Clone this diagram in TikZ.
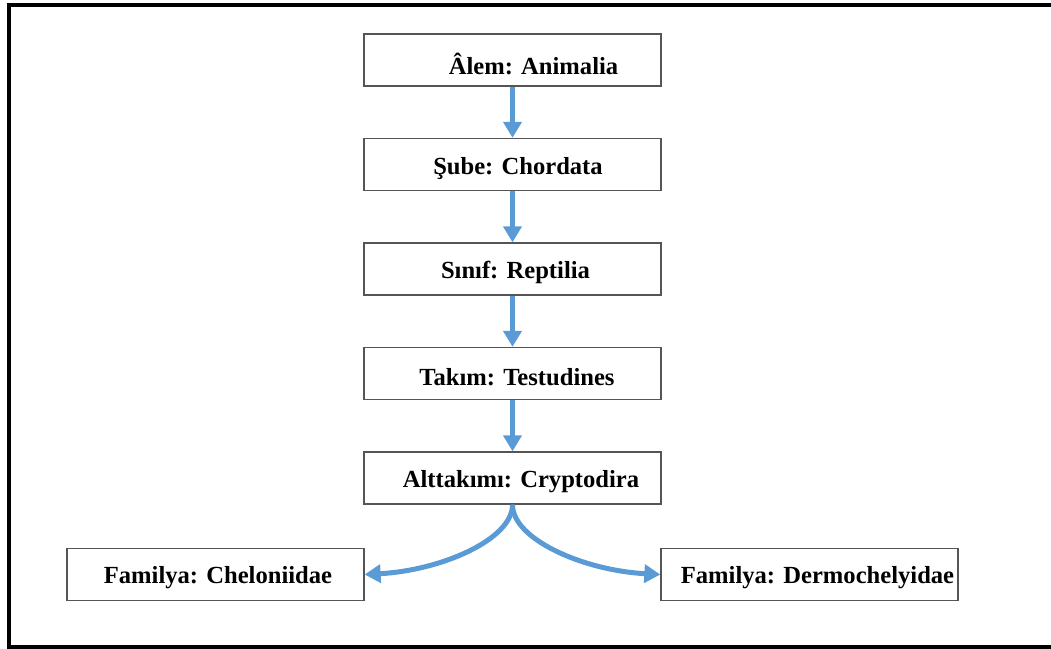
\documentclass[tikz,border=0pt]{standalone}
\usepackage{fontspec}
\setmainfont{Liberation Serif}
\usetikzlibrary{arrows.meta}
\definecolor{arrowblue}{RGB}{91,155,213}
\definecolor{boxgray}{RGB}{85,85,85}
\newcommand{\shifted}[2]{\hspace*{#1}\raisebox{-3.5pt}[\height][\depth]{#2}}
\begin{document}
\begin{tikzpicture}[x=1pt,y=-1pt,
  taxbox/.style={draw=boxgray, line width=1.3pt, minimum width=297pt, minimum height=52pt,
    inner sep=0pt, font=\fontsize{24.6}{28}\selectfont\bfseries, text=black},
  taxarrow/.style={draw=arrowblue, line width=5pt, -{Triangle[length=16pt,width=18pt]}}
]
\useasboundingbox (0,0) rectangle (1051,648);
\begin{scope}
\clip (0,0) rectangle (1051,648);
\draw[line width=4pt] (9,4.5) rectangle (1058,646.5);
\end{scope}

\node[taxbox] (alem) at (512.5,60) {\shifted{42pt}{Âlem: Animalia}};
\node[taxbox] (sube) at (512.5,164.5) {\shifted{11pt}{Şube: Chordata}};
\node[taxbox] (sinif) at (512.5,269) {\shifted{6pt}{Sınıf: Reptilia}};
\node[taxbox] (takim) at (512.5,373.5) {\shifted{9pt}{Takım: Testudines}};
\node[taxbox] (alttakim) at (512.5,478) {\shifted{17pt}{Alttakımı: Cryptodira}};
\node[taxbox] (chel) at (215.5,574.5) {\shifted{5pt}{Familya: Cheloniidae}};
\node[taxbox] (derm) at (809.5,574.5) {\shifted{16pt}{Familya: Dermochelyidae}};

\draw[taxarrow] (alem.south) -- (sube.north);
\draw[taxarrow] (sube.south) -- (sinif.north);
\draw[taxarrow] (sinif.south) -- (takim.north);
\draw[taxarrow] (takim.south) -- (alttakim.north);
\draw[taxarrow] (alttakim.south) .. controls +(0,35) and +(76,-4) .. (chel.east);
\draw[taxarrow] (alttakim.south) .. controls +(0,35) and +(-76,-4) .. (derm.west);
\end{tikzpicture}
\end{document}
